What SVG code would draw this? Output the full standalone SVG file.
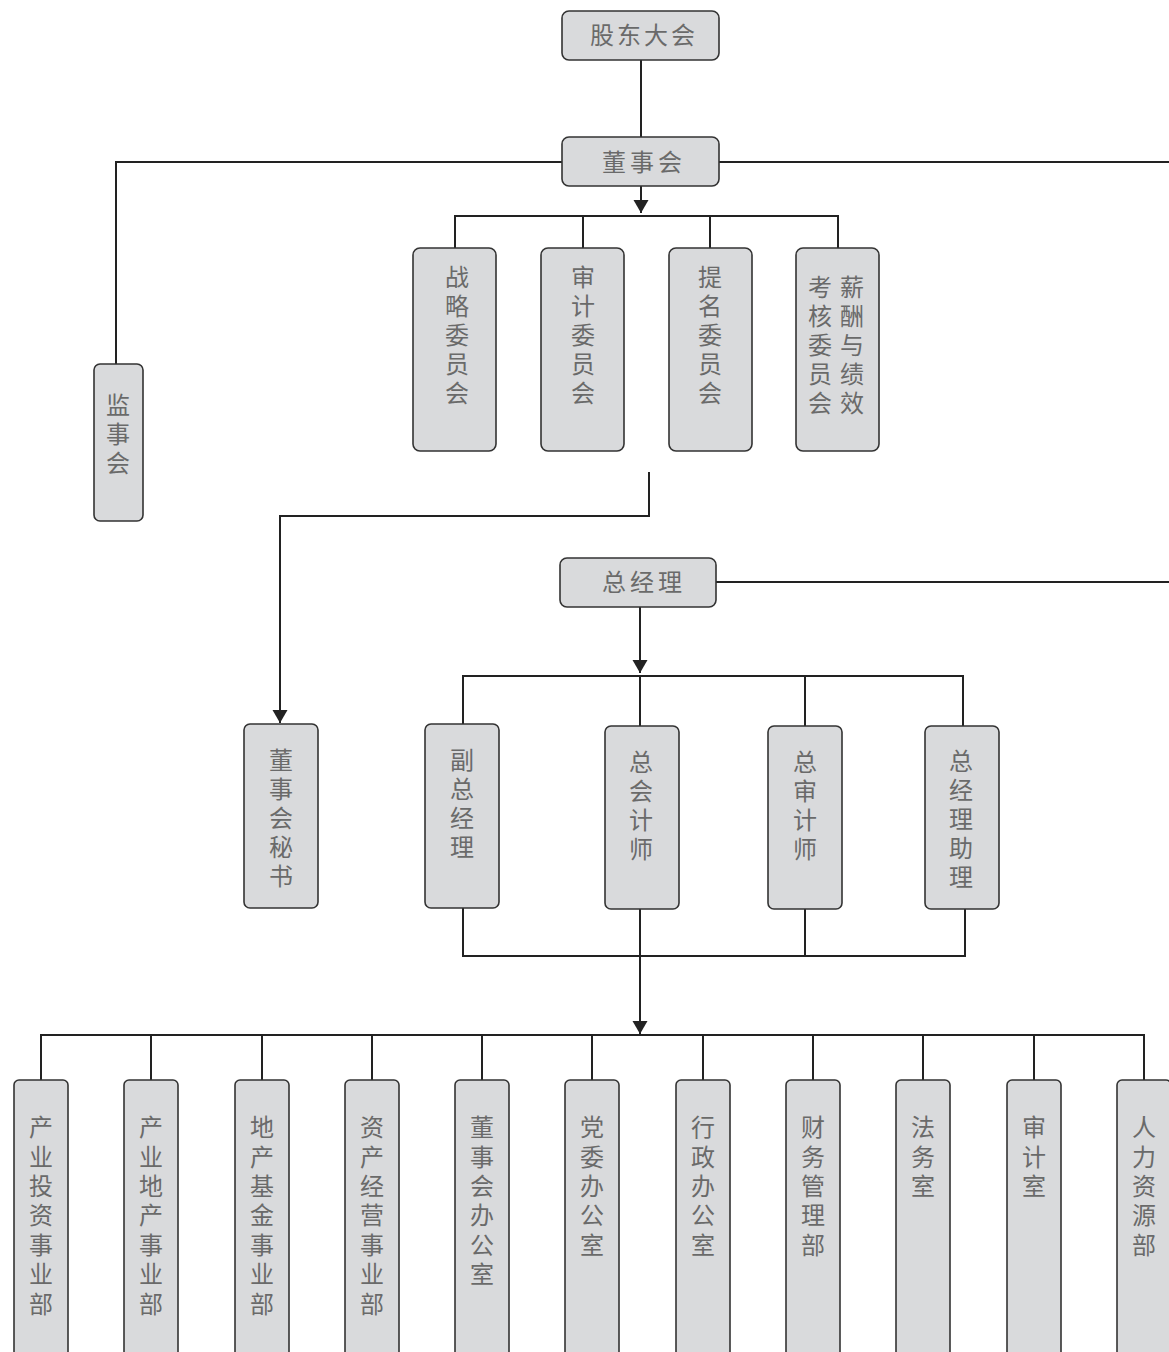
<svg xmlns="http://www.w3.org/2000/svg" width="1169" height="1352" viewBox="0 0 1169 1352">
<defs>
<marker id="arr" markerUnits="userSpaceOnUse" markerWidth="14" markerHeight="16" refX="13" refY="7.5" orient="auto">
<path d="M0,0 L13,7.5 L0,15 z" fill="#222"/>
</marker>
<style>
.box{fill:#d9dadc;stroke:#333;stroke-width:1.6}
.ln{fill:none;stroke:#222;stroke-width:2}
.t{font-family:"Noto Sans CJK SC","Noto Sans",sans-serif;font-size:24px;fill:#6a6a6a}
.v{writing-mode:vertical-rl;letter-spacing:5px}
.b{writing-mode:vertical-rl;letter-spacing:5.4px}
</style>
</defs>
<rect width="1169" height="1352" fill="#fff"/>
<g id="connectors">
<path class="ln" d="M641,60 V137"/>
<path class="ln" d="M562,162 H116 V364"/>
<path class="ln" d="M719,162 H1169"/>
<path class="ln" d="M641,186 V213" marker-end="url(#arr)"/>
<path class="ln" d="M455,248 V216 H838 V248 M583,216 V248 M710,216 V248"/>
<path class="ln" d="M649,472 V516 H280 V723" marker-end="url(#arr)"/>
<path class="ln" d="M716,582 H1169"/>
<path class="ln" d="M640,606 V673" marker-end="url(#arr)"/>
<path class="ln" d="M463,724 V676 H963 V726 M640,676 V726 M805,676 V726"/>
<path class="ln" d="M463,908 V956 H965 V909 M805,909 V956 M640,909 V1034" marker-end="url(#arr)"/>
<path class="ln" d="M41,1080 V1035 H1144 V1080 M151,1035 V1080 M262,1035 V1080 M372,1035 V1080 M482,1035 V1080 M592,1035 V1080 M703,1035 V1080 M813,1035 V1080 M923,1035 V1080 M1034,1035 V1080"/>
</g>
<g id="n-gudong"><rect class="box" x="562" y="11" width="157" height="49" rx="7"/><text class="t" x="590" y="44" letter-spacing="3">股东大会</text></g>
<g id="n-dongshihui"><rect class="box" x="562" y="137" width="157" height="49" rx="7"/><text class="t" x="602" y="171" letter-spacing="4">董事会</text></g>
<g id="n-jianshihui"><rect class="box" x="94" y="364" width="49" height="157" rx="6"/><text class="t v" x="118" y="393">监事会</text></g>
<g id="n-zhanlue"><rect class="box" x="413" y="248" width="83" height="203" rx="7"/><text class="t v" x="457" y="265">战略委员会</text></g>
<g id="n-shenji"><rect class="box" x="541" y="248" width="83" height="203" rx="7"/><text class="t v" x="583" y="265">审计委员会</text></g>
<g id="n-timing"><rect class="box" x="669" y="248" width="83" height="203" rx="7"/><text class="t v" x="710" y="265">提名委员会</text></g>
<g id="n-xinchou"><rect class="box" x="796" y="248" width="83" height="203" rx="7"/><text class="t v" x="852" y="275">薪酬与绩效</text><text class="t v" x="820" y="275">考核委员会</text></g>
<g id="n-zongjingli"><rect class="box" x="560" y="558" width="156" height="49" rx="7"/><text class="t" x="602" y="591" letter-spacing="4">总经理</text></g>
<g id="n-mishu"><rect class="box" x="244" y="724" width="74" height="184" rx="6"/><text class="t v" x="281" y="748">董事会秘书</text></g>
<g id="n-fuzong"><rect class="box" x="425" y="724" width="74" height="184" rx="6"/><text class="t v" x="462" y="748">副总经理</text></g>
<g id="n-zongkuaiji"><rect class="box" x="605" y="726" width="74" height="183" rx="6"/><text class="t v" x="641" y="750">总会计师</text></g>
<g id="n-zongshenji"><rect class="box" x="768" y="726" width="74" height="183" rx="6"/><text class="t v" x="805" y="750">总审计师</text></g>
<g id="n-zhuli"><rect class="box" x="925" y="726" width="74" height="183" rx="6"/><text class="t v" x="961" y="749">总经理助理</text></g>
<g id="n-d1"><rect class="box" x="14" y="1080" width="54" height="300" rx="5"/><text class="t b" x="41" y="1115">产业投资事业部</text></g>
<g id="n-d2"><rect class="box" x="124" y="1080" width="54" height="300" rx="5"/><text class="t b" x="151" y="1115">产业地产事业部</text></g>
<g id="n-d3"><rect class="box" x="235" y="1080" width="54" height="300" rx="5"/><text class="t b" x="262" y="1115">地产基金事业部</text></g>
<g id="n-d4"><rect class="box" x="345" y="1080" width="54" height="300" rx="5"/><text class="t b" x="372" y="1115">资产经营事业部</text></g>
<g id="n-d5"><rect class="box" x="455" y="1080" width="54" height="300" rx="5"/><text class="t b" x="482" y="1115">董事会办公室</text></g>
<g id="n-d6"><rect class="box" x="565" y="1080" width="54" height="300" rx="5"/><text class="t b" x="592" y="1115">党委办公室</text></g>
<g id="n-d7"><rect class="box" x="676" y="1080" width="54" height="300" rx="5"/><text class="t b" x="703" y="1115">行政办公室</text></g>
<g id="n-d8"><rect class="box" x="786" y="1080" width="54" height="300" rx="5"/><text class="t b" x="813" y="1115">财务管理部</text></g>
<g id="n-d9"><rect class="box" x="896" y="1080" width="54" height="300" rx="5"/><text class="t b" x="923" y="1115">法务室</text></g>
<g id="n-d10"><rect class="box" x="1007" y="1080" width="54" height="300" rx="5"/><text class="t b" x="1034" y="1115">审计室</text></g>
<g id="n-d11"><rect class="box" x="1117" y="1080" width="54" height="300" rx="5"/><text class="t b" x="1144" y="1115">人力资源部</text></g>
</svg>
